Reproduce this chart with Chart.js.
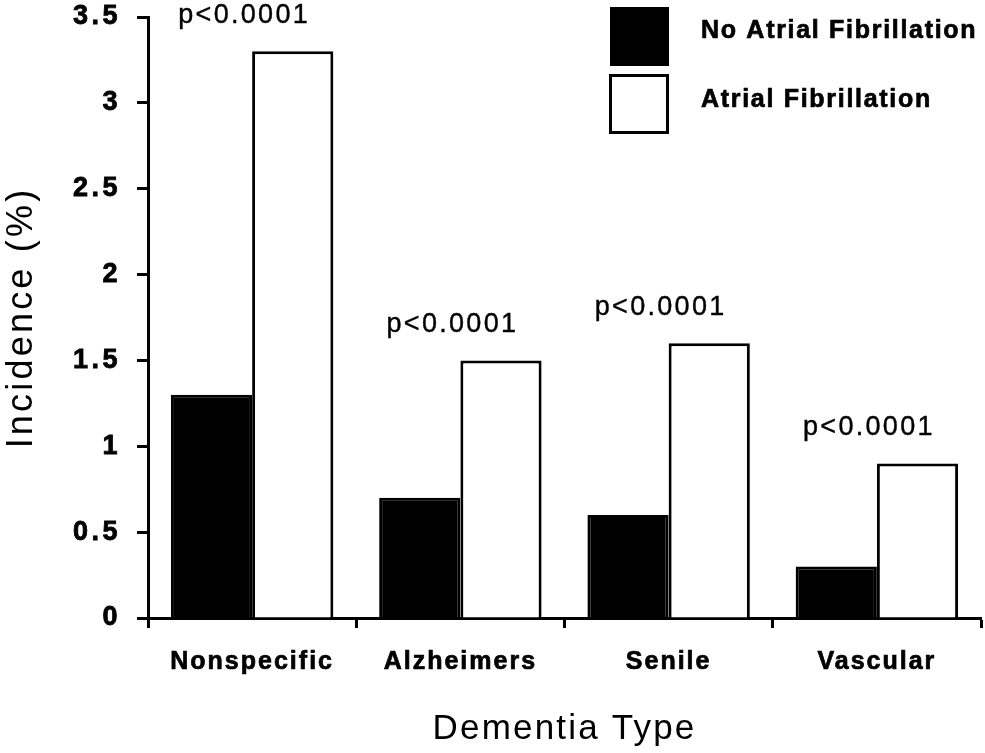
<!DOCTYPE html>
<html><head><meta charset="utf-8">
<script src="https://cdn.jsdelivr.net/npm/chart.js@4"></script>
<style>html,body{margin:0;padding:0;background:#fff}</style>
</head><body>
<canvas id="c" width="985" height="753"></canvas>
<script>
const categories = ['Nonspecific', 'Alzheimers', 'Senile', 'Vascular'];
const noAF = [1.3, 0.7, 0.6, 0.3];
const withAF = [3.3, 1.5, 1.6, 0.9];
const pLabels = ['p<0.0001', 'p<0.0001', 'p<0.0001', 'p<0.0001'];
const seriesNames = ['No Atrial Fibrillation', 'Atrial Fibrillation'];
const yTitle = 'Incidence (%)';
const xTitle = 'Dementia Type';

const FAM = '"Liberation Sans", Arial, sans-serif';

const spacingPlugin = {
  id: 'spacing',
  beforeDraw(chart) {
    const ctx = chart.ctx;
    const cfg = { x: ['2px', '2.2px'], y: ['3.5px', '3.2px'] };
    Object.keys(cfg).forEach(k => {
      const s = chart.scales[k];
      if (!s || s._spPatched) return;
      s._spPatched = true;
      const dl = s.drawLabels.bind(s), dt = s.drawTitle.bind(s);
      s.drawLabels = function (a) { ctx.save(); ctx.letterSpacing = cfg[k][0]; dl(a); ctx.restore(); };
      s.drawTitle = function (a) { ctx.save(); ctx.letterSpacing = cfg[k][1]; dt(a); ctx.restore(); };
    });
  }
};

const annotPlugin = {
  id: 'annot',
  afterDraw(chart) {
    const ctx = chart.ctx, xs = chart.scales.x, ys = chart.scales.y;
    ctx.save();
    ctx.fillStyle = '#000';
    ctx.strokeStyle = '#000';
    ctx.font = '27px ' + FAM;
    ctx.letterSpacing = '2.3px';
    ctx.textAlign = 'center';
    ctx.textBaseline = 'middle';
    ctx.lineWidth = 0.4;
    pLabels.forEach((t, i) => {
      const top = Math.max(noAF[i], withAF[i]);
      const px = xs.getPixelForValue(i) - 8, py = ys.getPixelForValue(top) - 36;
      ctx.strokeText(t, px, py);
      ctx.fillText(t, px, py);
    });
    // legend
    const ds = chart.data.datasets;
    const boxes = [[610, 7, 59], [609, 74, 60]];
    ds.forEach((d, i) => {
      const [bx, by, bs] = boxes[i];
      ctx.fillStyle = d.backgroundColor;
      ctx.fillRect(bx, by, bs, bs);
      ctx.lineWidth = 3;
      ctx.strokeStyle = d.borderColor;
      ctx.strokeRect(bx + 1.5, by + 1.5, bs - 3, bs - 3);
      ctx.fillStyle = '#000';
      ctx.font = 'bold 25px ' + FAM;
      ctx.letterSpacing = '1.7px';
      ctx.textAlign = 'left';
      ctx.textBaseline = 'middle';
      ctx.lineWidth = 0.7;
      ctx.strokeStyle = '#000';
      ctx.strokeText(d.label, 701, by + 24 + i * 2);
      ctx.fillText(d.label, 701, by + 24 + i * 2);
    });
    ctx.restore();
  }
};

new Chart(document.getElementById('c'), {
  type: 'bar',
  data: {
    labels: categories,
    datasets: [
      { label: seriesNames[0], data: noAF, backgroundColor: '#000', borderColor: '#000', borderWidth: 3 },
      { label: seriesNames[1], data: withAF, backgroundColor: '#fff', borderColor: '#000', borderWidth: 3 }
    ]
  },
  options: {
    responsive: false,
    animation: false,
    layout: { padding: { top: 0, right: 4, left: 0, bottom: 0 } },
    datasets: { bar: { categoryPercentage: 0.78, barPercentage: 1 } },
    plugins: { legend: { display: false }, tooltip: { enabled: false } },
    scales: {
      x: {
        grid: { display: true, drawOnChartArea: false, drawTicks: true, tickLength: 10, tickWidth: 3, tickColor: '#000', offset: true },
        border: { display: true, width: 3, color: '#000' },
        ticks: { color: '#000', font: { family: FAM, size: 25, weight: 'bold' }, padding: 19, maxRotation: 0, textStrokeColor: '#000', textStrokeWidth: 0.7 },
        title: { display: true, text: xTitle, color: '#000', font: { family: FAM, size: 35 }, padding: { top: 0, bottom: 3 } },
        afterFit: s => { s.height = 135; }
      },
      y: {
        min: 0, max: 3.5,
        grid: { display: true, drawOnChartArea: false, drawTicks: true, tickLength: 11, tickWidth: 3, tickColor: '#000' },
        border: { display: true, width: 3, color: '#000' },
        ticks: { stepSize: 0.5, color: '#000', font: { family: FAM, size: 27, weight: 'bold' }, padding: 16, textStrokeColor: '#000', textStrokeWidth: 0.8, callback: v => String(v) },
        title: { display: true, text: yTitle, color: '#000', font: { family: FAM, size: 36 }, padding: { top: 0, bottom: 0 } },
        afterFit: s => { s.width = 148; s.paddingTop = 17; s.paddingBottom = 0; }
      }
    }
  },
  plugins: [spacingPlugin, annotPlugin]
});
</script>
</body></html>
